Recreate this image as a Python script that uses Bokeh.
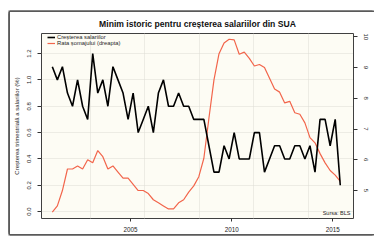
import math
from bokeh.plotting import figure
from bokeh.models import (LinearAxis, Range1d, FixedTicker, Legend, LegendItem,
                          Label, ColumnDataSource, NumeralTickFormatter)
from bokeh.embed import file_html
from bokeh.resources import INLINE

# ---------------- data ----------------
title_text = "Minim istoric pentru creșterea salariilor din SUA"
left_label = "Creșterea trimestrială a salariilor (%)"
right_label = "Rata șomajului (%)"
series_names = ["Creșterea salariilor", "Rata șomajului (dreapta)"]
source_note = "Sursa: BLS"

first_year = 2001  # first quarter shown: 2001 Q1

# quarterly wage growth, % (left axis)
wage_growth = [1.1, 1.0, 1.1, 0.9, 0.8, 1.0, 0.8, 0.7, 1.2, 0.9, 1.0, 0.8, 1.1,
               1.0, 0.9, 0.7, 0.9, 0.6, 0.7, 0.8, 0.6, 0.9, 1.0, 0.8, 0.8, 0.9, 0.8, 0.8,
               0.7, 0.7, 0.7, 0.5, 0.3, 0.3, 0.5, 0.4, 0.6, 0.4, 0.4, 0.4, 0.6, 0.6,
               0.3, 0.4, 0.5, 0.5, 0.4, 0.4, 0.5, 0.5, 0.4, 0.5, 0.3, 0.7, 0.7, 0.5, 0.7, 0.2]

# unemployment rate, % (right axis)
unemployment = [4.3, 4.5, 5.0, 5.7, 5.7, 5.8, 5.7, 6.0, 5.9, 6.3, 6.1, 5.7, 5.8,
                5.6, 5.4, 5.4, 5.2, 5.0, 5.0, 4.9, 4.7, 4.6, 4.5, 4.4, 4.4, 4.6, 4.7, 4.95,
                5.15, 5.45, 6.05, 7.35, 8.6, 9.45, 9.8, 9.92, 9.9, 9.43, 9.5, 9.3, 9.05, 9.1,
                9.0, 8.65, 8.3, 8.2, 7.85, 7.9, 7.53, 7.48, 7.2, 6.72, 6.55, 6.2, 5.9, 5.65, 5.5, 5.3]

x_ticks = [2005, 2010, 2015]
left_ticks = [0.0, 0.2, 0.4, 0.6, 0.8, 1.0, 1.2]
right_ticks = [5, 6, 7, 8, 9, 10]
x_grid = [2003.0, 2005.7, 2008.4, 2011.1, 2013.8]

quarters = [first_year + 0.125 + 0.25 * i for i in range(len(wage_growth))]
src = ColumnDataSource(dict(x=quarters, wage=wage_growth, unemp=unemployment))

FONT = "Liberation Sans"
TXT = "#1e1e1e"

W, H = 364, 222
ML, MR, MT, MB = 31, 21, 20, 16
FW, FH = W - ML - MR, H - MT - MB

p = figure(width=W, height=H, output_backend="svg", toolbar_location=None,
           x_range=Range1d(2000.59, 2016.03), y_range=Range1d(-0.052, 1.352),
           min_border_left=ML, min_border_right=MR, min_border_top=MT, min_border_bottom=MB)
p.extra_y_ranges = {"unemp": Range1d(4.09, 10.107)}

# outer figure frame drawn as shadows on left, top and bottom (right edge is cut off)
p.styles = {"margin-left": "10px", "margin-top": "11.5px",
            "box-shadow": "-1.5px 0 0 0 #5a5a5a, 0 -1.5px 0 0 #5a5a5a, "
                          "-1.5px -1.5px 0 0 #5a5a5a, 0 1.5px 0 0 #5a5a5a, "
                          "-1.5px 1.5px 0 0 #5a5a5a"}

p.background_fill_color = "#fdfcf4"
p.border_fill_color = "#ffffff"
p.outline_line_color = "#404040"
p.outline_line_width = 1

# title
p.title.text = title_text
p.title.align = "center"
p.title.text_font = FONT
p.title.text_font_size = "8.6px"
p.title.text_font_style = "bold"
p.title.text_color = "#111111"
p.title.standoff = 9

# grids
p.xgrid.ticker = FixedTicker(ticks=x_grid)
for g in (p.xgrid, p.ygrid):
    g.grid_line_color = "#dcdcd4"
    g.grid_line_dash = "1 1"
    g.grid_line_width = 1

# x axis
xa = p.xaxis[0]
xa.ticker = FixedTicker(ticks=x_ticks)
xa.axis_line_color = None
xa.major_tick_out = 3
xa.major_tick_in = 0
xa.minor_tick_line_color = None
xa.major_tick_line_color = "#333333"
xa.major_label_standoff = 5
xa.major_label_text_font = FONT
xa.major_label_text_font_size = "6.3px"
xa.major_label_text_color = TXT

# left axis
ya = p.yaxis[0]
ya.ticker = FixedTicker(ticks=left_ticks)
ya.formatter = NumeralTickFormatter(format="0.0")
ya.axis_line_color = None
ya.major_tick_out = 4
ya.major_tick_in = 0
ya.minor_tick_line_color = None
ya.major_tick_line_color = "#333333"
ya.major_label_orientation = "vertical"
ya.major_label_standoff = 6
ya.major_label_text_font = FONT
ya.major_label_text_font_size = "6px"
ya.major_label_text_color = TXT
ya.axis_label = left_label
ya.axis_label_text_font = FONT
ya.axis_label_text_font_size = "6px"
ya.axis_label_text_font_style = "normal"
ya.axis_label_text_color = TXT
ya.axis_label_standoff = 5

# right axis
ra = LinearAxis(y_range_name="unemp", ticker=FixedTicker(ticks=right_ticks))
ra.axis_line_color = None
ra.major_tick_out = 4
ra.major_tick_in = 0
ra.minor_tick_line_color = None
ra.major_tick_line_color = "#333333"
ra.major_label_orientation = "vertical"
ra.major_label_standoff = 6
ra.major_label_text_font = FONT
ra.major_label_text_font_size = "6px"
ra.major_label_text_color = TXT
p.add_layout(ra, "right")

# right axis title, squeezed against the right edge (cut off in the reference)
rlab = Label(x=FW + 19, y=FH / 2, x_units="screen", y_units="screen", text=right_label,
             angle=math.pi / 2, text_align="center", text_baseline="middle",
             text_font=FONT, text_font_size="4.6px", text_color=TXT)
p.add_layout(rlab)

# lines
r_unemp = p.line("x", "unemp", source=src, y_range_name="unemp",
                 line_color="#f2654b", line_width=1.2)
r_wage = p.line("x", "wage", source=src, line_color="#000000", line_width=1.6)

legend = Legend(items=[LegendItem(label=series_names[0], renderers=[r_wage]),
                       LegendItem(label=series_names[1], renderers=[r_unemp])],
                location=(6, FH - 14), padding=0, margin=0, spacing=0,
                glyph_width=8, glyph_height=6, label_height=6, label_standoff=2,
                label_text_font=FONT, label_text_font_size="5.8px",
                label_text_color=TXT, background_fill_alpha=0,
                border_line_color=None)
p.add_layout(legend)

note = Label(x=FW - 3, y=2.5, x_units="screen", y_units="screen", text=source_note,
             text_align="right", text_baseline="bottom", text_font=FONT,
             text_font_size="5.5px", text_color=TXT)
p.add_layout(note)

open("out.html", "w").write(file_html(p, INLINE))
